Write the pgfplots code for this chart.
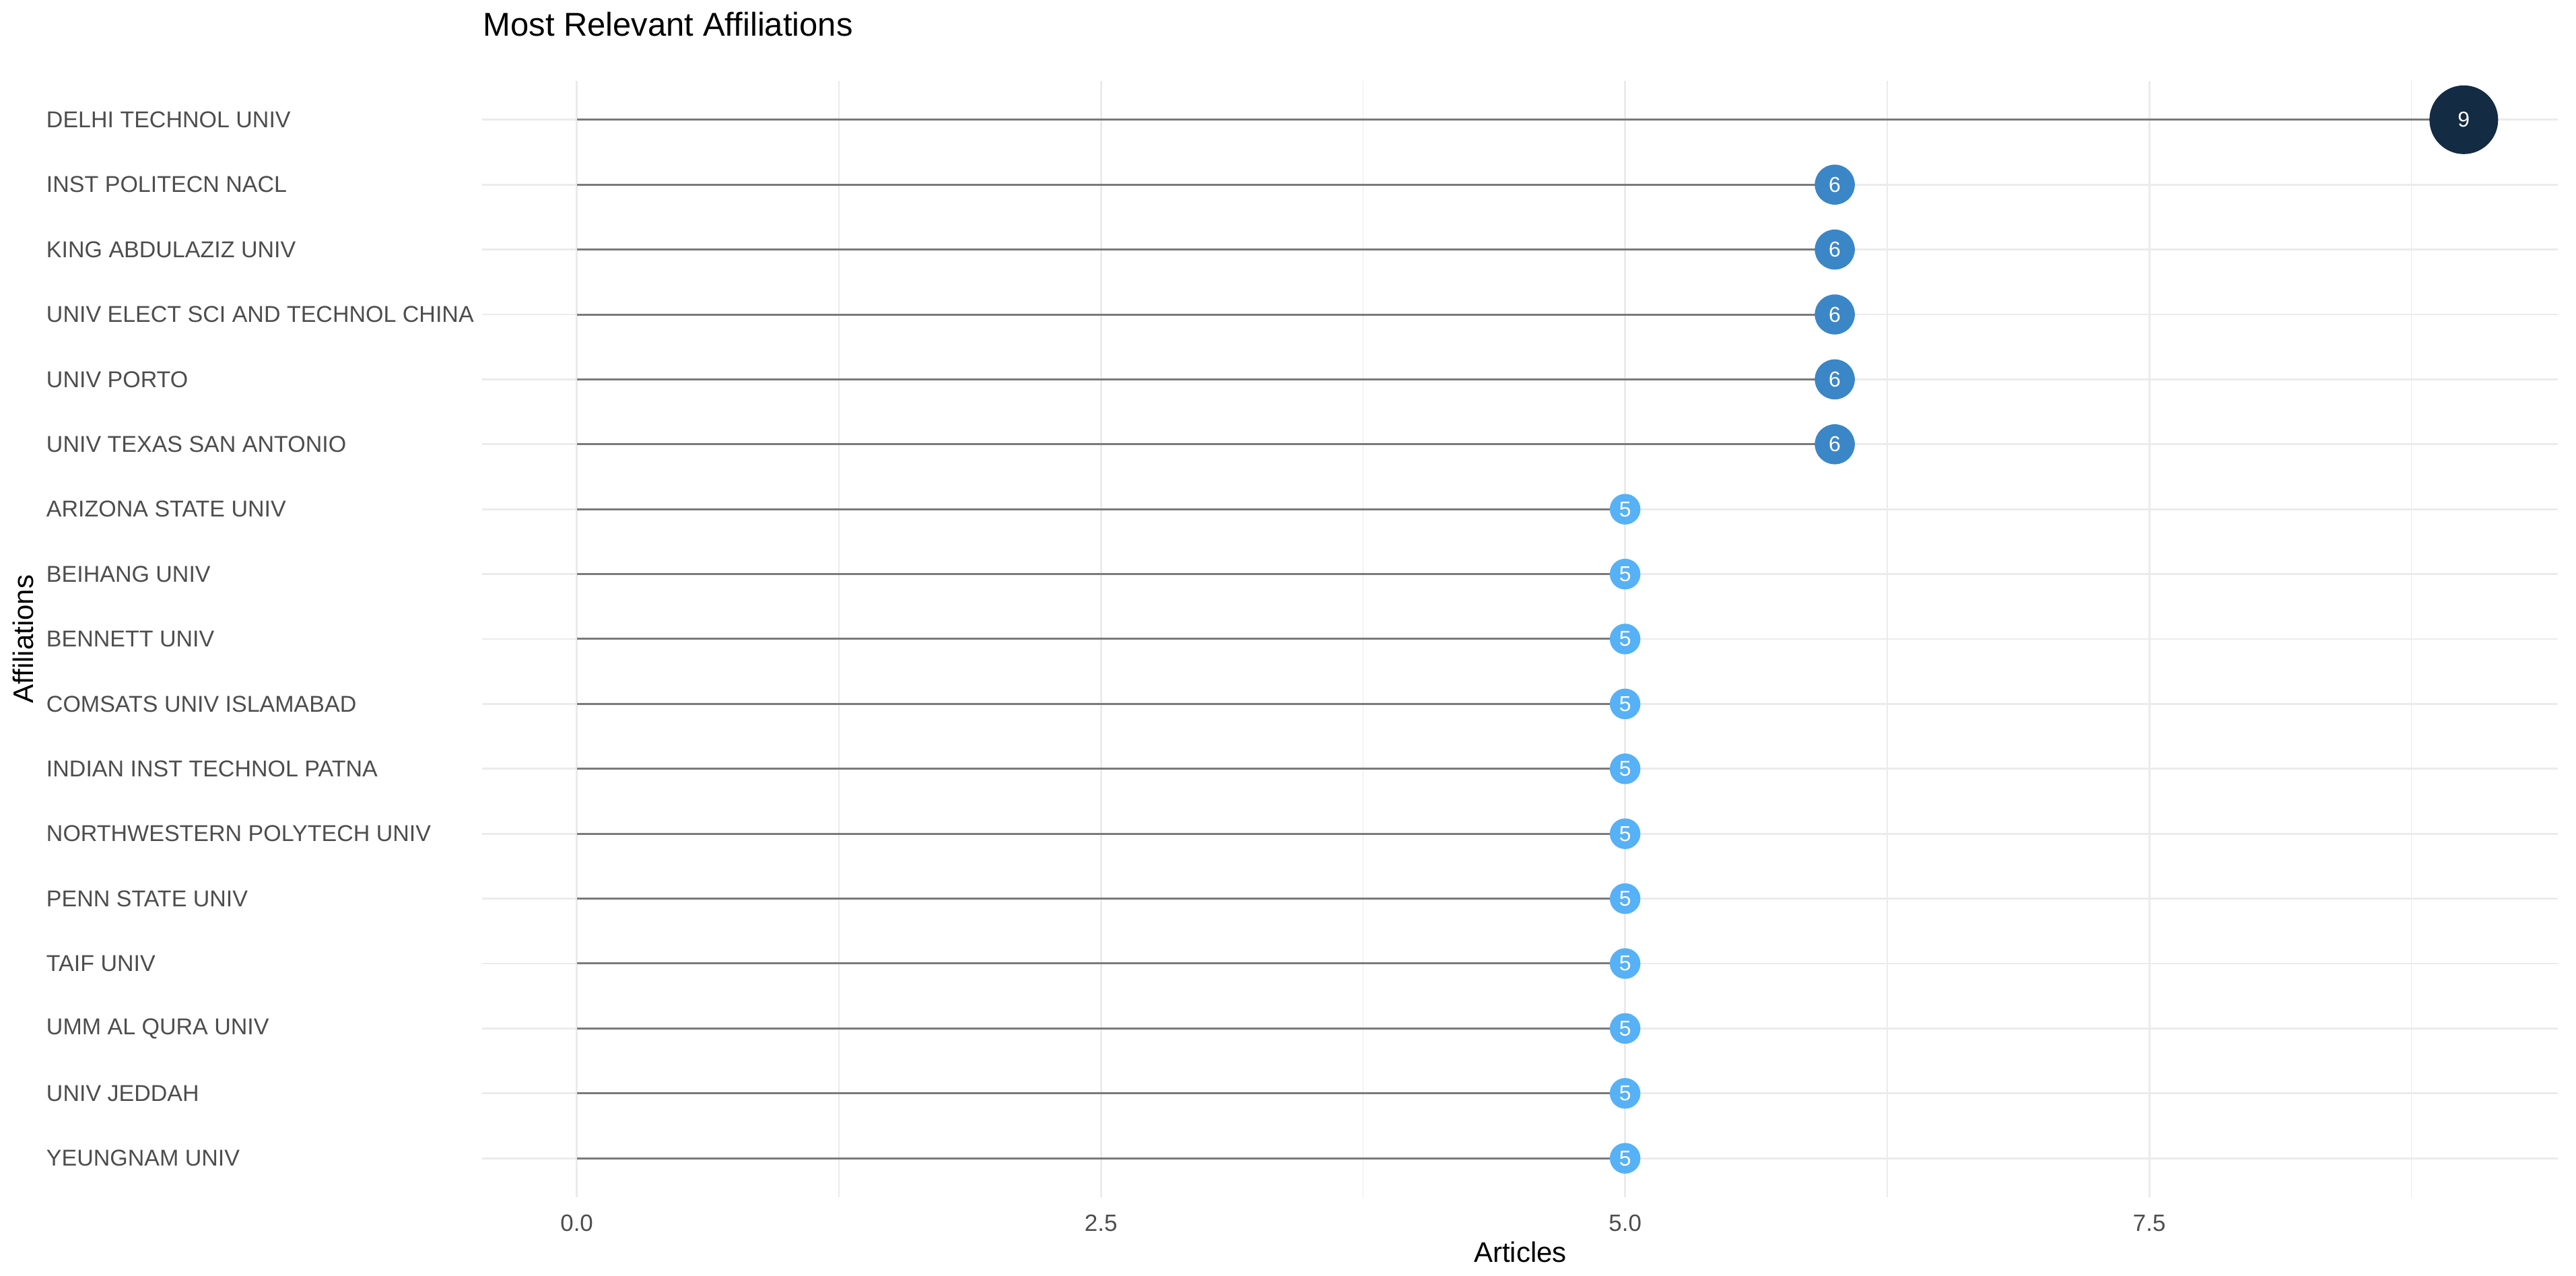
\documentclass[border=0pt]{standalone}
\usepackage{fontspec}
\setmainfont{Liberation Sans}
\usepackage{pgfplots}
\pgfplotsset{compat=1.18}
\definecolor{gridc}{HTML}{EBEBEB}
\definecolor{txt}{HTML}{4D4D4D}
\definecolor{seg}{HTML}{7A7A7A}
\definecolor{c9}{HTML}{132B43}
\definecolor{c6}{HTML}{3B86C7}
\definecolor{c5}{HTML}{56B1F7}
\begin{document}
\begin{tikzpicture}
\path[use as bounding box] (0,0) rectangle (765.2pt,379pt);
\begin{axis}[
    at={(143.3pt,23.4pt)}, anchor=south west,
    scale only axis, width=616.6pt, height=331.6pt,
    xmin=-0.45, xmax=9.45,
    ymin=0.4, ymax=17.6, y dir=reverse,
    clip=false,
    axis line style={draw=none},
    tick style={draw=none},
    xtick={0,2.5,5,7.5},
    xticklabels={0.0,2.5,5.0,7.5},
    minor xtick={1.25,3.75,6.25,8.75},
    ytick={1,...,17},
    yticklabels={DELHI TECHNOL UNIV, INST POLITECN NACL, KING ABDULAZIZ UNIV,
        UNIV ELECT SCI AND TECHNOL CHINA, UNIV PORTO, UNIV TEXAS SAN ANTONIO,
        ARIZONA STATE UNIV, BEIHANG UNIV, BENNETT UNIV, COMSATS UNIV ISLAMABAD,
        INDIAN INST TECHNOL PATNA, NORTHWESTERN POLYTECH UNIV, PENN STATE UNIV,
        TAIF UNIV, UMM AL QURA UNIV, UNIV JEDDAH, YEUNGNAM UNIV},
    xmajorgrids, xminorgrids, ymajorgrids,
    major grid style={gridc, line width=0.55pt},
    minor grid style={gridc, line width=0.35pt},
    x tick label style={font=\fontsize{7}{8}\selectfont, text=txt, anchor=base, inner sep=0pt, yshift=-10pt},
    y tick label style={font=\fontsize{6.8}{8}\selectfont, text=txt, anchor=west, inner sep=0pt, xshift=-129.7pt},
    every axis title shift=0pt,
    title={Most Relevant Affiliations},
    title style={font=\fontsize{9.8}{11}\selectfont, at={(axis description cs:0,1.0401)}, anchor=base west, inner sep=0pt},
    xlabel={Articles},
    xlabel style={font=\fontsize{8.4}{10}\selectfont, at={(axis description cs:0.5,-0.0579)}, anchor=base, inner sep=0pt},
    ylabel={Affiliations},
    ylabel style={font=\fontsize{8.4}{10}\selectfont, at={(axis description cs:-0.2165,0.5)}, rotate=0, anchor=base, inner sep=0pt},
    /pgf/number format/assume math mode=true,
    nodes near coords style={anchor=center, text=white, font=\fontsize{6.4}{7}\selectfont, inner sep=0pt},
]
% segments
\addplot[xcomb, draw=seg, line width=0.6pt, mark=none] coordinates {
    (9,1) (6,2) (6,3) (6,4) (6,5) (6,6) (5,7) (5,8) (5,9) (5,10)
    (5,11) (5,12) (5,13) (5,14) (5,15) (5,16) (5,17)};
% dots
\addplot[only marks, color=c9, mark=*, mark size=10pt, mark options={draw=c9, fill=c9},
    nodes near coords, point meta=x] coordinates {(9,1)};
\addplot[only marks, color=c6, mark=*, mark size=5.75pt, mark options={draw=c6, fill=c6},
    nodes near coords, point meta=x] coordinates {(6,2) (6,3) (6,4) (6,5) (6,6)};
\addplot[only marks, color=c5, mark=*, mark size=4.35pt, mark options={draw=c5, fill=c5},
    nodes near coords, point meta=x] coordinates {
    (5,7) (5,8) (5,9) (5,10) (5,11) (5,12) (5,13) (5,14) (5,15) (5,16) (5,17)};
\end{axis}
\end{tikzpicture}
\end{document}
